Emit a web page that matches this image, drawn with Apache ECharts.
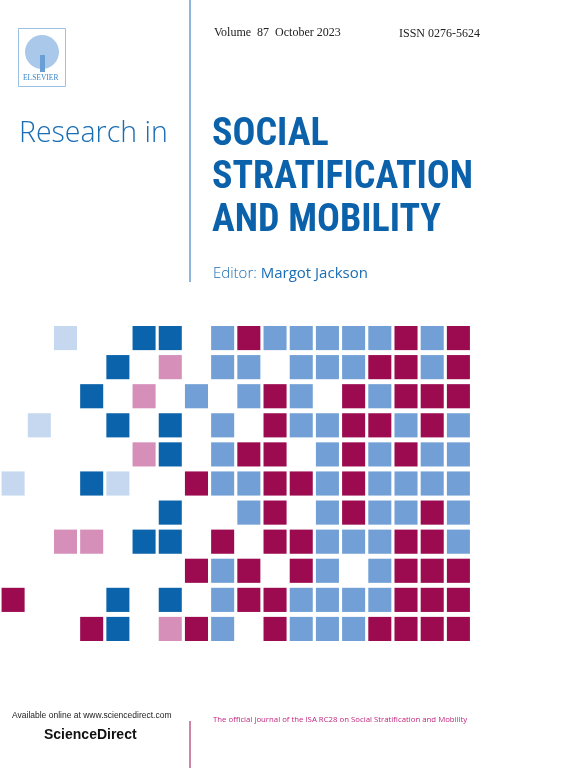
<!DOCTYPE html>
<html>
<head>
<meta charset="utf-8">
<script src="https://cdn.jsdelivr.net/npm/echarts@6/dist/echarts.min.js"></script>
<style>
  html, body { margin: 0; padding: 0; background: #fff; }
  #chart { width: 576px; height: 768px; }
</style>
</head>
<body>
<div id="chart"></div>
<script>
// tile grid, one string per row, one char per column
// . empty, L light blue, M magenta, B dark blue, P pink, W pale blue
const tileRows = [
  '..W..BB.LMLLLLLMLM',
  '....B.P.LL.LLLMMLM',
  '...B.P.L.LML.MLMMM',
  '.W..B.B.L.MLLMMLML',
  '.....PB.LMM.LMLMLL',
  'W..BW..MLLMMLMLLLL',
  '......B..LM.LMLLML',
  '..PP.BB.M.MMLLLMML',
  '.......MLM.ML.LMMM',
  'M...B.B.LMMLLLLMMM',
  '...MB.PML.MLLLMMMM'
];
const tileColors = {
  L: '#72a0d6',
  M: '#9c0a50',
  B: '#0b63ab',
  P: '#d58fb8',
  W: '#c5d8ef'
};
const blue = '#1a6db3';

let tiles = [];
tileRows.forEach(function(row, r) {
  row.split('').forEach(function(c, col) {
    if (c !== '.') tiles.push([col, r, c]);
  });
});

function renderTile(params, api) {
  let p = api.coord([api.value(0), api.value(1)]);
  let s = api.size([1, 1]);
  let w = s[0] * 0.88, h = s[1] * 0.83;
  return {
    type: 'rect',
    shape: { x: p[0] - w / 2, y: p[1] - h / 2, width: w, height: h },
    style: { fill: tileColors[tiles[params.dataIndex][2]] }
  };
}

function txt(x, y, text, size, color, extra) {
  return {
    type: 'text', left: x, top: y,
    style: Object.assign({ text: text, fontSize: size, fill: color,
      fontFamily: '"Open Sans", sans-serif' }, extra || {})
  };
}

const titleFont = '"Liberation Sans Narrow", "Roboto Condensed", sans-serif';

let chart = echarts.init(document.getElementById('chart'));
chart.setOption({
  animation: false,
  grid: { left: -3.7, top: 323.5, width: 475.2, height: 320 },
  xAxis: { type: 'value', min: -0.5, max: 17.5, show: false },
  yAxis: { type: 'value', min: -0.5, max: 10.5, inverse: true, show: false },
  series: [{
    type: 'custom',
    renderItem: renderTile,
    data: tiles.map(function(t) { return [t[0], t[1]]; })
  }],
  graphic: [
    { type: 'line', shape: { x1: 190, y1: 0, x2: 190, y2: 282 }, style: { stroke: blue, lineWidth: 1 } },
    { type: 'line', shape: { x1: 190, y1: 721, x2: 190, y2: 768 }, style: { stroke: '#9c0a50', lineWidth: 1 } },
    { type: 'rect', shape: { x: 18.5, y: 28.5, width: 47, height: 58 }, style: { fill: '#fff', stroke: '#9cc0e4', lineWidth: 1 } },
    { type: 'circle', shape: { cx: 42, cy: 52, r: 17 }, style: { fill: '#a9c8ea' } },
    { type: 'rect', shape: { x: 40, y: 55, width: 5, height: 17 }, style: { fill: '#6a9fd6' } },
    txt(23, 74, 'ELSEVIER', 7.5, '#3a86c8', { fontFamily: '"Liberation Serif", serif' }),
    txt(214, 27, 'Volume  87  October 2023', 12, '#222', { fontFamily: '"Liberation Serif", serif' }),
    txt(399, 28, 'ISSN 0276-5624', 12, '#222', { fontFamily: '"Liberation Serif", serif' }),
    txt(19, 119, 'Research in', 28.5, blue, { fontWeight: 300 }),
    txt(212, 116, 'SOCIAL', 38, '#0b62aa', { fontWeight: 'bold', fontFamily: titleFont }),
    txt(212, 159, 'STRATIFICATION', 38, '#0b62aa', { fontWeight: 'bold', fontFamily: titleFont }),
    txt(212, 202, 'AND MOBILITY', 38, '#0b62aa', { fontWeight: 'bold', fontFamily: titleFont }),
    {
      type: 'text', left: 213, top: 266,
      style: {
        text: '{a|Editor: }{b|Margot Jackson}',
        rich: {
          a: { fontSize: 15, fill: blue, fontFamily: '"Open Sans", sans-serif', fontWeight: 300 },
          b: { fontSize: 15, fill: blue, fontFamily: '"Open Sans", sans-serif', fontWeight: 500 }
        }
      }
    },
    txt(12, 711, 'Available online at www.sciencedirect.com', 8.5, '#222', { fontFamily: '"Liberation Sans", sans-serif' }),
    txt(44, 728, 'ScienceDirect', 14, '#111', { fontWeight: 'bold', fontFamily: '"Liberation Sans", sans-serif' }),
    txt(213, 716, 'The official journal of the ISA RC28 on Social Stratification and Mobility', 7.8, '#c0277f')
  ]
});
</script>
</body>
</html>
